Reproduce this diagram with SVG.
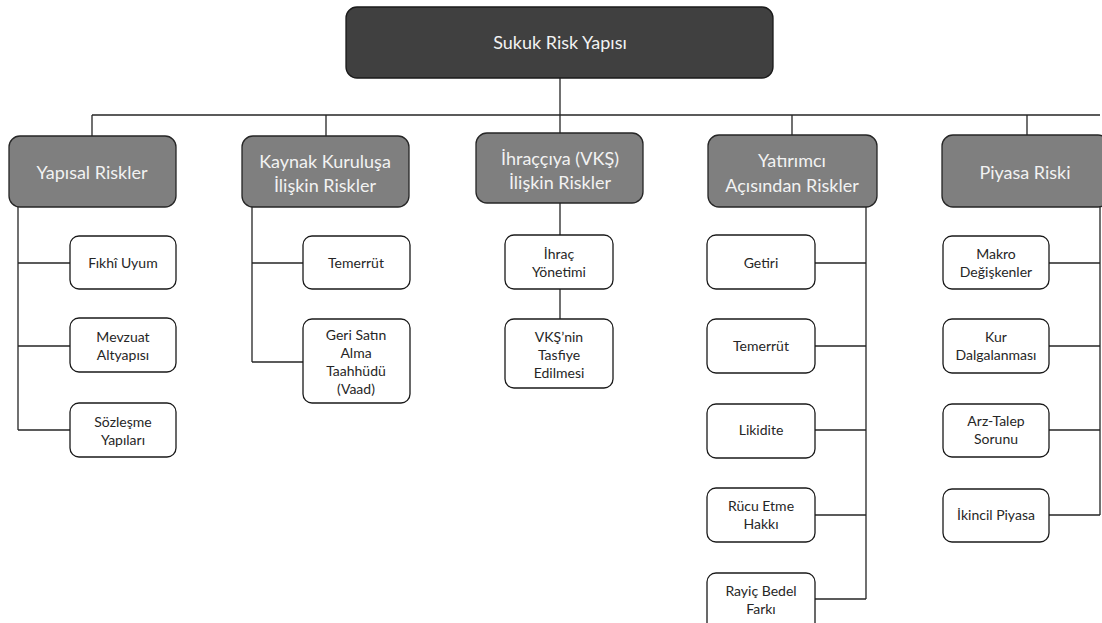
<svg xmlns="http://www.w3.org/2000/svg" width="1102" height="623" viewBox="0 0 1102 623">
<style>
.root{fill:#404040;stroke:#1a1a1a;stroke-width:1.3}
.l1{fill:#7f7f7f;stroke:#262626;stroke-width:1.3}
.l2{fill:#ffffff;stroke:#1a1a1a;stroke-width:1.3}
.conn{fill:none;stroke:#262626;stroke-width:1.3}
text{font-family:Lato,"Open Sans","Noto Sans",sans-serif;text-anchor:middle}
.t0{fill:#f2f2f2;font-size:18px}
.t1{fill:#f2f2f2;font-size:18px}
.t2{fill:#262626;font-size:14px}
</style>
<rect width="1102" height="623" fill="#ffffff"/>
<g id="connectors">
<path class="conn" d="M560 78V115M92 115H1100M92 115V136M326 115V136M560 115V133M792 115V135M1027 115V135"/>
<path class="conn" d="M18 207V430M18 263H70M18 346H70M18 430H70"/>
<path class="conn" d="M252 207V362M252 263H303M252 362H303"/>
<path class="conn" d="M560 203V235M560 289V319"/>
<path class="conn" d="M866 207V599M815 263H866M815 346H866M815 430H866M815 515H866M815 599H866"/>
<path class="conn" d="M1100 207V515M1049 263H1100M1049 346H1100M1049 430H1100M1049 515H1100"/>
</g>
<g id="root"><rect class="root" x="346" y="7" width="427" height="71" rx="11"/><text class="t0" x="560" y="49">Sukuk Risk Yapısı</text></g>
<g id="yapisal"><rect class="l1" x="9" y="136" width="167" height="71" rx="11"/><text class="t1" x="92" y="179">Yapısal Riskler</text></g>
<g id="kaynak"><rect class="l1" x="242" y="136" width="167" height="71" rx="11"/><text class="t1" x="325" y="168">Kaynak Kuruluşa</text><text class="t1" x="325" y="192">İlişkin Riskler</text></g>
<g id="ihraccıya"><rect class="l1" x="476" y="133" width="167" height="70" rx="11"/><text class="t1" x="560" y="165">İhraççıya (VKŞ)</text><text class="t1" x="560" y="189">İlişkin Riskler</text></g>
<g id="yatirimci"><rect class="l1" x="708" y="135" width="169" height="72" rx="11"/><text class="t1" x="792" y="167">Yatırımcı</text><text class="t1" x="792" y="192">Açısından Riskler</text></g>
<g id="piyasa"><rect class="l1" x="942" y="135" width="167" height="72" rx="11"/><text class="t1" x="1025" y="179">Piyasa Riski</text></g>
<g id="fikhi"><rect class="l2" x="70" y="236" width="106" height="53" rx="9"/><text class="t2" x="123" y="268">Fıkhî Uyum</text></g>
<g id="mevzuat"><rect class="l2" x="70" y="318" width="106" height="54" rx="9"/><text class="t2" x="123" y="342">Mevzuat</text><text class="t2" x="123" y="360">Altyapısı</text></g>
<g id="sozlesme"><rect class="l2" x="70" y="403" width="106" height="54" rx="9"/><text class="t2" x="123" y="427">Sözleşme</text><text class="t2" x="123" y="445">Yapıları</text></g>
<g id="temerrut1"><rect class="l2" x="303" y="236" width="107" height="53" rx="9"/><text class="t2" x="356" y="268">Temerrüt</text></g>
<g id="geri"><rect class="l2" x="303" y="319" width="107" height="84" rx="9"/><text class="t2" x="356" y="340">Geri Satın</text><text class="t2" x="356" y="358">Alma</text><text class="t2" x="356" y="376">Taahhüdü</text><text class="t2" x="356" y="394">(Vaad)</text></g>
<g id="ihrac"><rect class="l2" x="505" y="235" width="108" height="54" rx="9"/><text class="t2" x="559" y="259">İhraç</text><text class="t2" x="559" y="277">Yönetimi</text></g>
<g id="vks"><rect class="l2" x="505" y="319" width="108" height="69" rx="9"/><text class="t2" x="559" y="342">VKŞ’nin</text><text class="t2" x="559" y="360">Tasfiye</text><text class="t2" x="559" y="378">Edilmesi</text></g>
<g id="getiri"><rect class="l2" x="707" y="235" width="108" height="54" rx="9"/><text class="t2" x="761" y="268">Getiri</text></g>
<g id="temerrut2"><rect class="l2" x="707" y="319" width="108" height="54" rx="9"/><text class="t2" x="761" y="351">Temerrüt</text></g>
<g id="likidite"><rect class="l2" x="707" y="404" width="108" height="54" rx="9"/><text class="t2" x="761" y="435">Likidite</text></g>
<g id="rucu"><rect class="l2" x="707" y="488" width="108" height="54" rx="9"/><text class="t2" x="761" y="511">Rücu Etme</text><text class="t2" x="761" y="529">Hakkı</text></g>
<g id="rayic"><rect class="l2" x="707" y="573" width="108" height="60" rx="9"/><text class="t2" x="761" y="596">Rayiç Bedel</text><text class="t2" x="761" y="614">Farkı</text></g>
<g id="makro"><rect class="l2" x="943" y="236" width="106" height="53" rx="9"/><text class="t2" x="996" y="259">Makro</text><text class="t2" x="996" y="277">Değişkenler</text></g>
<g id="kur"><rect class="l2" x="943" y="319" width="106" height="54" rx="9"/><text class="t2" x="996" y="342">Kur</text><text class="t2" x="996" y="360">Dalgalanması</text></g>
<g id="arz"><rect class="l2" x="943" y="404" width="106" height="53" rx="9"/><text class="t2" x="996" y="426">Arz-Talep</text><text class="t2" x="996" y="444">Sorunu</text></g>
<g id="ikincil"><rect class="l2" x="943" y="489" width="106" height="53" rx="9"/><text class="t2" x="996" y="520">İkincil Piyasa</text></g>
</svg>
